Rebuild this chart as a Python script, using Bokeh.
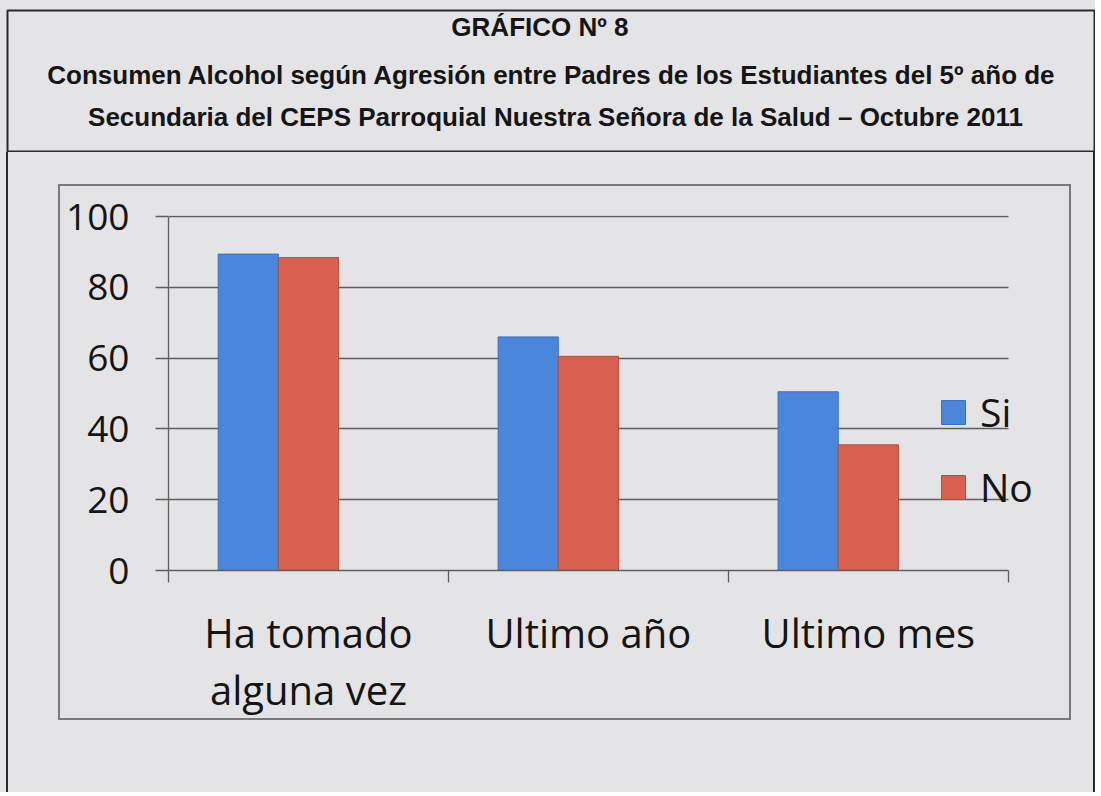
from bokeh.plotting import figure
from bokeh.layouts import column
from bokeh.models import (Range1d, FixedTicker, Label, Legend, LegendItem, ColumnDataSource)
from bokeh.transform import dodge
from bokeh.embed import file_html
from bokeh.resources import INLINE

# ---------------- data ----------------
categories = ["Ha tomado alguna vez", "Ultimo año", "Ultimo mes"]
category_labels = ["Ha tomado\nalguna vez", "Ultimo año", "Ultimo mes"]
series_names = ["Si", "No"]
si_values = [89.4, 66.0, 50.5]
no_values = [88.4, 60.5, 35.5]
y_ticks = [0, 20, 40, 60, 80, 100]
title_lines = [
    "GRÁFICO  Nº 8",
    "Consumen Alcohol según Agresión entre Padres de los  Estudiantes del 5º año de",
    "Secundaria del CEPS Parroquial Nuestra Señora de la Salud – Octubre 2011",
]

# ---------------- styling ----------------
BG = "#E4E4E6"
BLUE, BLUE_EDGE = "#4A86DA", "#3B72C4"
RED, RED_EDGE = "#D9614F", "#B94C3C"
GRID = "#5E5E5E"
DARK = "#2A2A2A"
FONT = "Open Sans"
TFONT = "Liberation Sans"

# ---------------- title block ----------------
TW, TH = 1089, 143
tf = figure(width=TW, height=TH, x_range=Range1d(0, TW), y_range=Range1d(TH, 0),
            output_backend="svg", toolbar_location=None,
            x_axis_location=None, y_axis_location=None,
            min_border_left=1, min_border_right=1, min_border_top=1, min_border_bottom=1)
tf.title.visible = False
tf.xgrid.visible = False
tf.ygrid.visible = False
tf.background_fill_color = BG
tf.border_fill_color = BG
tf.outline_line_color = DARK
tf.outline_line_width = 2
tf.margin = (9, 0, 0, 6)
for txt, (cx, cy) in zip(title_lines, [(537, 17), (549, 65), (549, 108)]):
    tf.add_layout(Label(x=cx, y=cy, text=txt, text_align="center", text_baseline="middle",
                        text_font=TFONT, text_font_style="bold",
                        text_font_size="26px", text_color="#151515"))

# ---------------- chart ----------------
n = len(categories)
centers = [i + 0.5 for i in range(n)]  # category slot centres on the x scale

CW, CH = 1013, 536
p = figure(width=CW, height=CH, x_range=Range1d(0, n + 0.165), y_range=Range1d(0, 100.3),
           output_backend="svg", toolbar_location=None,
           min_border_left=108, min_border_right=19, min_border_top=29,
           min_border_bottom=152)
p.title.visible = False
p.background_fill_color = BG
p.border_fill_color = BG
p.outline_line_color = None
p.margin = (32, 0, 0, 50)
p.styles = {"border": "2px solid #7A7A7A"}

src = ColumnDataSource(dict(cat=categories, x=centers, si=si_values, no=no_values))
bw = 0.215
r_si = p.vbar(x=dodge("x", -bw), top="si", width=bw, source=src,
              fill_color=BLUE, line_color=BLUE_EDGE, line_width=1)
r_no = p.vbar(x=dodge("x", 0), top="no", width=bw, source=src,
              fill_color=RED, line_color=RED_EDGE, line_width=1)

# y axis
ya = p.yaxis[0]
ya.ticker = FixedTicker(ticks=y_ticks)
ya.bounds = (0, 100)
ya.major_tick_out = 13
ya.major_tick_in = 0
ya.minor_tick_line_color = None
ya.axis_line_color = GRID
ya.axis_line_width = 1.3
ya.major_tick_line_color = GRID
ya.major_tick_line_width = 1.3
ya.major_label_standoff = 26
ya.major_label_text_font = FONT
ya.major_label_text_font_size = "37px"
ya.major_label_text_color = "#141414"

p.xgrid.visible = False
p.ygrid.grid_line_color = GRID
p.ygrid.grid_line_width = 1.3
p.ygrid.cross_bounds = (0, n)

# x axis: labels at slot centres, ticks at slot boundaries
xa = p.xaxis[0]
xa.ticker = FixedTicker(ticks=centers, minor_ticks=list(range(n + 1)))
xa.bounds = (0, n)
xa.major_label_overrides = {c: lab for c, lab in zip(centers, category_labels)}
xa.major_tick_out = 0
xa.major_tick_in = 0
xa.minor_tick_out = 12
xa.minor_tick_in = 0
xa.minor_tick_line_color = GRID
xa.minor_tick_line_width = 1.3
xa.axis_line_color = GRID
xa.axis_line_width = 1.3
xa.major_label_standoff = 22
xa.major_label_text_font = FONT
xa.major_label_text_font_size = "40px"
xa.major_label_text_line_height = 1.05
xa.major_label_text_color = "#141414"

# legend
legend = Legend(items=[LegendItem(label=series_names[0], renderers=[r_si]),
                       LegendItem(label=series_names[1], renderers=[r_no])],
                location=(770, 57), orientation="vertical",
                background_fill_alpha=0, border_line_color=None,
                glyph_width=30, glyph_height=30, label_standoff=12,
                label_text_font=FONT, label_text_font_size="39px",
                label_text_color="#141414", spacing=22, padding=0, margin=0)
p.add_layout(legend)

body = column(p, width=1089, height=640, sizing_mode="fixed", margin=(0, 0, 0, 6),
              styles={"border-left": "2px solid " + DARK, "border-right": "2px solid " + DARK,
                      "background-color": BG})

root = column(tf, body, styles={"background-color": BG})

open("out.html", "w").write(file_html(root, INLINE))
